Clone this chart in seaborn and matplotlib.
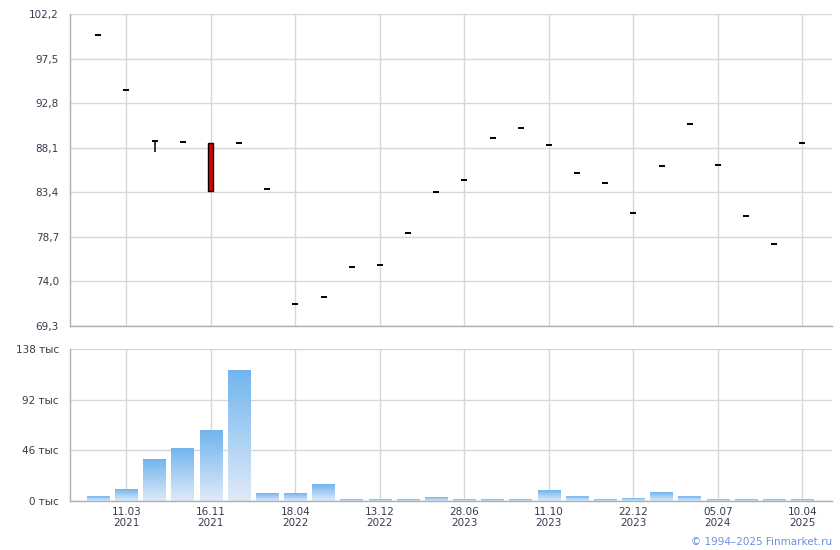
import numpy as np
import pandas as pd
import matplotlib
matplotlib.use("Agg")
import matplotlib.pyplot as plt
from matplotlib.colors import LinearSegmentedColormap
import seaborn as sns

# --- Data ---
tick_pos = [1, 4, 7, 10, 13, 16, 19, 22, 25]
tick_dates = ["11.03\n2021", "16.11\n2021", "18.04\n2022", "13.12\n2022", "28.06\n2023",
              "11.10\n2023", "22.12\n2023", "05.07\n2024", "10.04\n2025"]

close = [100.0, 94.2, 88.8, 88.7, 83.5, 88.6, 83.7, 71.6, 72.4, 75.5, 75.7, 79.1, 83.4,
         84.7, 89.1, 90.15, 88.4, 85.4, 84.4, 81.2, 86.2, 90.6, 86.3, 80.9, 77.9, 88.6]
opens = list(close)
opens[4] = 88.6
highs = list(close)
highs[4] = 88.6
lows = list(close)
lows[2] = 87.6

volume = [4, 10.3, 37.6, 47.6, 64, 118.7, 6.6, 6.6, 14.8, 1, 1, 1.2, 3.0,
          1, 1, 1, 9.4, 3.9, 1, 2.1, 7.6, 3.9, 1, 1, 1, 1]

price_ticks = [69.3, 74.0, 78.7, 83.4, 88.1, 92.8, 97.5, 102.2]
vol_ticks = [0, 46, 92, 138]

df = pd.DataFrame({"pos": range(len(close)), "open": opens, "high": highs,
                   "low": lows, "close": close, "volume": volume})

grid_c = "#d3d8dd"
spine_c = "#a9b0b8"
text_c = "#3a3a4e"

sns.set_style("white")
plt.rcParams["font.family"] = ["DejaVu Sans"]

fig = plt.figure(figsize=(8.4, 5.5), dpi=100)
ax = fig.add_axes([70 / 840, 1 - 326 / 550, 762 / 840, 312 / 550])
axv = fig.add_axes([70 / 840, 1 - 501 / 550, 762 / 840, 152 / 550])

xlim = (-1.0, 26.05)

# --- Price panel ---
flat = df[df["open"] == df["close"]]
sns.scatterplot(data=flat, x="pos", y="close", marker="_", s=20, color="black",
                linewidth=1.4, ax=ax, legend=False, zorder=4)
wick = df[df["high"] != df["low"]]
ax.vlines(wick["pos"], wick["low"], wick["high"], color="black", lw=1.1, zorder=3)
body = df[df["open"] != df["close"]]
ax.bar(body["pos"], body["close"] - body["open"], bottom=body["open"], width=0.18,
       color="#dd0000", edgecolor="black", linewidth=1.0, zorder=3)

ax.set_xlim(*xlim)
ax.set_ylim(price_ticks[0], price_ticks[-1])
ax.set_yticks(price_ticks)
ax.set_yticklabels([f"{v:.1f}".replace(".", ",") for v in price_ticks])
ax.set_xticks(tick_pos)
ax.set_xticklabels([])
ax.grid(True, color=grid_c, lw=1)
ax.set_axisbelow(True)
ax.set_xlabel("")
ax.set_ylabel("")

# --- Volume panel ---
sns.barplot(data=df, x="pos", y="volume", color="#7ab9ee", width=0.8,
            ax=axv, native_scale=True)
cmap = LinearSegmentedColormap.from_list("vol", ["#dfeaf8", "#72b5ee"])
grad = np.linspace(0, 1, 100).reshape(-1, 1)
for p in axv.patches:
    x0, y0 = p.get_x(), p.get_y()
    w, h = p.get_width(), p.get_height()
    p.set_facecolor("none")
    p.set_edgecolor("none")
    axv.imshow(grad, extent=[x0, x0 + w, y0, y0 + h], origin="lower",
               aspect="auto", cmap=cmap, zorder=2)

axv.set_xlim(*xlim)
axv.set_ylim(0, 138)
axv.set_yticks(vol_ticks)
axv.set_yticklabels([f"{v} тыс" for v in vol_ticks])
axv.set_xticks(tick_pos)
axv.set_xticklabels(tick_dates)
axv.grid(True, color=grid_c, lw=1)
axv.set_axisbelow(True)
axv.set_xlabel("")
axv.set_ylabel("")

for a in (ax, axv):
    for s in ("top", "right"):
        a.spines[s].set_visible(False)
    for s in ("left", "bottom"):
        a.spines[s].set_color(spine_c)
        a.spines[s].set_linewidth(1)
    a.tick_params(axis="both", colors=spine_c, labelcolor=text_c, labelsize=7.5,
                  length=5, width=1, direction="out", pad=3)
axv.tick_params(axis="x", length=0, pad=4)

fig.text(832 / 840, 1 - 542 / 550, "© 1994–2025 Finmarket.ru", ha="right", va="center",
         fontsize=7.5, color="#6b8fe3")

fig.savefig("out.png", dpi=100)
